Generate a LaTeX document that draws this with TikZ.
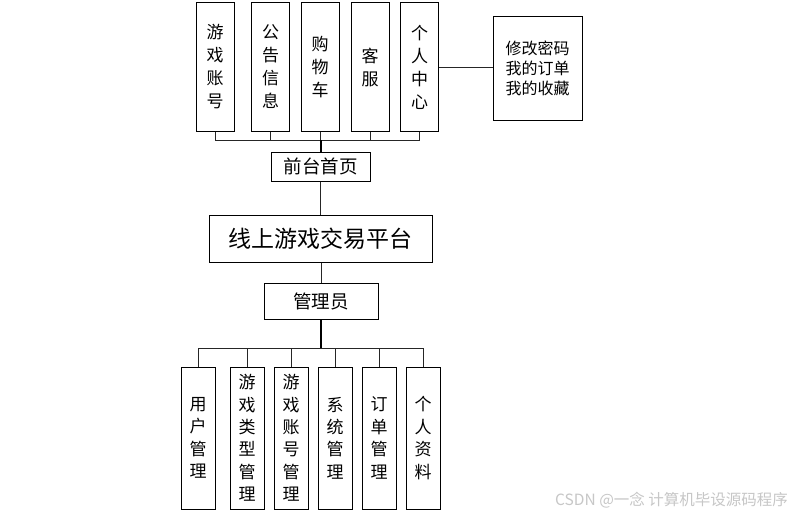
\documentclass[tikz,border=0pt]{standalone}
\usepackage{fontspec}
\setmainfont{Noto Sans CJK SC}
\begin{document}
\begin{tikzpicture}[x=1pt,y=-1pt,
  box/.style={draw=black, line width=1pt, inner sep=0pt, align=center, fill=white},
  vbox/.style={box, minimum width=38pt, minimum height=128pt, font=\fontsize{17}{23}\selectfont},
  bbox/.style={box, minimum width=34pt, minimum height=142pt, font=\fontsize{17}{22.4}\selectfont},
  conn/.style={draw=black!85, line width=0.9pt},
  trunk/.style={draw=black, line width=1.3pt}]
\useasboundingbox (0,0) rectangle (801,519);
\fill[white] (0,0) rectangle (801,519);
% top level
\node[vbox] (t1) at (215,67) {游\\戏\\账\\号};
\node[vbox] (t2) at (270.5,67) {公\\告\\信\\息};
\node[vbox] (t3) at (320,67) {购\\物\\车};
\node[vbox] (t4) at (370,67) {客\\服};
\node[vbox] (t5) at (419.5,67) {个\\人\\中\\心};
\node[box, minimum width=89pt, minimum height=103pt, font=\fontsize{16}{20}\selectfont] (pc) at (537.5,68.5) {修改密码\\我的订单\\我的收藏};
\node[box, minimum width=99pt, minimum height=29pt, font=\fontsize{18.5}{20}\selectfont] (home) at (320.5,166.5) {前台首页};
\node[box, minimum width=223pt, minimum height=47pt, font=\fontsize{23}{26}\selectfont] (main) at (320.5,238.5) {线上游戏交易平台};
\node[box, minimum width=114pt, minimum height=36pt, font=\fontsize{18.5}{20}\selectfont] (admin) at (321,301) {管理员};
% bottom level
\node[bbox] (b1) at (198,438) {用\\户\\管\\理};
\node[bbox] (b2) at (247,438) {游\\戏\\类\\型\\管\\理};
\node[bbox] (b3) at (291,438) {游\\戏\\账\\号\\管\\理};
\node[bbox] (b4) at (335,438) {系\\统\\管\\理};
\node[bbox] (b5) at (379,438) {订\\单\\管\\理};
\node[bbox] (b6) at (423,438) {个\\人\\资\\料};
% connectors top
\coordinate (tbus) at (321,140);
\path[conn] (t1.south) |- (tbus);
\path[conn] (t5.south) |- (tbus);
\path[conn] (t2.south) -- (t2.south |- tbus);
\path[conn] (t3.south) -- (t3.south |- tbus);
\path[conn] (t4.south) -- (t4.south |- tbus);
\path[trunk] (tbus) -- (tbus |- home.north);
\path[conn] (t5.east) -- (pc.west |- t5.east);
\path[conn] (home.south) -- (home.south |- main.north);
\path[conn] (main.south -| admin.north) -- (admin.north);
% connectors bottom
\coordinate (bbus) at (321,348);
\path[trunk] (admin.south) -- (bbus);
\path[conn] (b1.north) |- (bbus);
\path[conn] (b6.north) |- (bbus);
\path[conn] (b2.north) -- (b2.north |- bbus);
\path[conn] (b3.north) -- (b3.north |- bbus);
\path[conn] (b4.north) -- (b4.north |- bbus);
\path[conn] (b5.north) -- (b5.north |- bbus);
% watermark
\node[text=black!22, font=\fontsize{15.5}{17}\selectfont, anchor=west, inner sep=0pt] (wm) at (555,500) {CSDN @一念 计算机毕设源码程序};
\end{tikzpicture}
\end{document}
